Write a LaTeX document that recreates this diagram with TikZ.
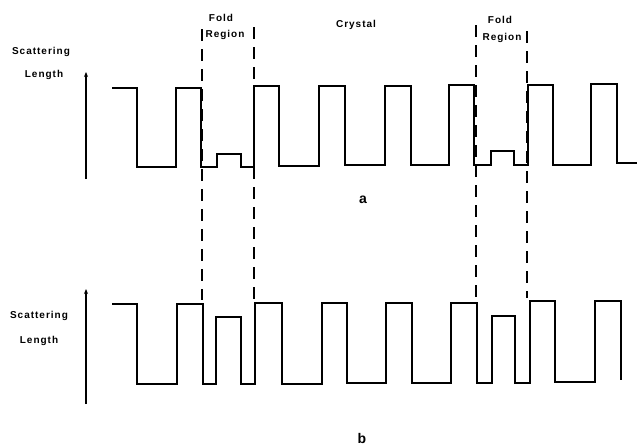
\documentclass[tikz,border=0pt]{standalone}
\usepackage{fontspec}
\setmainfont{Liberation Sans}
\newfontfamily\labelfont[LetterSpace=10]{Liberation Sans}
\usetikzlibrary{arrows.meta}
\begin{document}
\begin{tikzpicture}[x=1pt,y=-1pt,
  trace/.style={line width=1.9pt,line join=miter},
  axis/.style={line width=1.1pt,-{Stealth[length=5pt,width=4pt]}},
  boundary/.style={line width=1.6pt,dash pattern=on 12pt off 8pt},
  lbl/.style={font=\labelfont\bfseries\fontsize{10}{12}\selectfont,inner sep=0pt},
  panel/.style={font=\bfseries\fontsize{14}{16}\selectfont,inner sep=0pt}]
\useasboundingbox (0,0) rectangle (637,447);

% axis arrows
\coordinate (a0) at (86,179); \coordinate (a1) at (86,72);
\coordinate (b0) at (86,404); \coordinate (b1) at (86,289);
\draw[axis] (a0) -- (a1);
\draw[axis] (b0) -- (b1);

% axis labels
\node[lbl] (sa) at (41,52) {Scattering};
\node[lbl] (la) at (44,75) {Length};
\node[lbl] (sb) at (39,316) {Scattering};
\node[lbl] (lb) at (39,341) {Length};

% region labels
\node[lbl] (f1) at (221,18) {Fold};
\node[lbl] (r1) at (225,35) {Region};
\node[lbl] (cr) at (356,25) {Crystal};
\node[lbl] (f2) at (500,20) {Fold};
\node[lbl] (r2) at (502,38) {Region};

% fold region boundaries
\coordinate (d1t) at (202,29); \coordinate (d1b) at (202,300);
\coordinate (d2t) at (254,27); \coordinate (d2b) at (254,300);
\coordinate (d3t) at (476,25); \coordinate (d3b) at (476,300);
\coordinate (d4t) at (527,31); \coordinate (d4b) at (527,298);
\draw[boundary] (d1t) -- (d1b);
\draw[boundary] (d2t) -- (d2b);
\draw[boundary] (d3t) -- (d3b);
\draw[boundary] (d4t) -- (d4b);

% profile a
\draw[trace] (112,88) -- (137,88) -- (137,167) -- (176,167) -- (176,88)
  -- (201,88) -- (201,167) -- (217,167) -- (217,154) -- (241,154)
  -- (241,167) -- (254,167) -- (254,86) -- (279,86) -- (279,166)
  -- (319,166) -- (319,86) -- (345,86) -- (345,165) -- (385,165)
  -- (385,86) -- (411,86) -- (411,165) -- (449,165) -- (449,85)
  -- (474,85) -- (474,165) -- (491,165) -- (491,151) -- (514,151)
  -- (514,165) -- (528,165) -- (528,85) -- (553,85) -- (553,165)
  -- (591,165) -- (591,84) -- (617,84) -- (617,163) -- (637,163);

% profile b
\draw[trace] (112,304) -- (137,304) -- (137,384) -- (177,384) -- (177,304)
  -- (203,304) -- (203,384) -- (216,384) -- (216,317) -- (241,317)
  -- (241,384) -- (255,384) -- (255,303) -- (282,303) -- (282,384)
  -- (322,384) -- (322,303) -- (347,303) -- (347,383) -- (386,383)
  -- (386,303) -- (412,303) -- (412,383) -- (451,383) -- (451,303)
  -- (477,303) -- (477,383) -- (492,383) -- (492,316) -- (515,316)
  -- (515,383) -- (530,383) -- (530,301) -- (555,301) -- (555,382)
  -- (595,382) -- (595,301) -- (621,301) -- (621,380);

% panel letters
\node[panel] (pa) at (363,200) {a};
\node[panel] (pb) at (362,438) {b};
\end{tikzpicture}
\end{document}
